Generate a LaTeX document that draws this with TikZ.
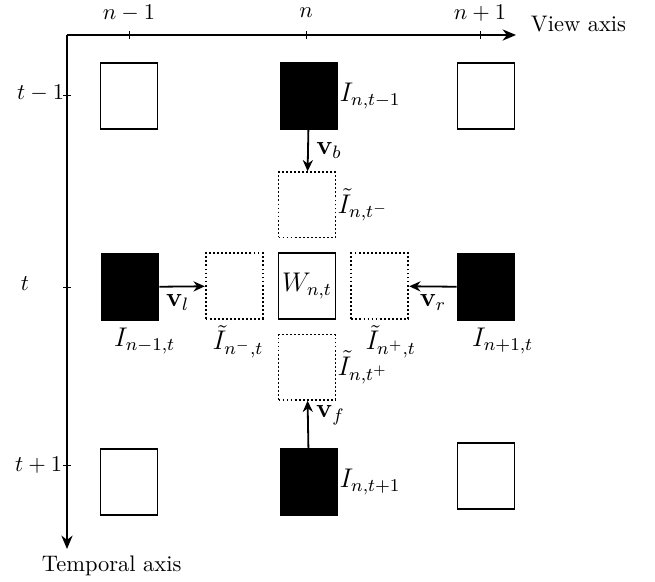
\documentclass[tikz,border=0pt]{standalone}
\usepackage{amsmath,amssymb}
\usetikzlibrary{arrows.meta, positioning}

\tikzset{
  frame/.style={draw, thick, minimum width=0.89cm, minimum height=1.02cm, inner sep=0pt, font=\large},
  known/.style={frame, fill=black},
  plainbox/.style={frame},
  warped/.style={frame, densely dotted},
  flow/.style={-{Stealth[length=5pt,width=4.5pt]}, thick},
  axis/.style={-{Stealth[length=6pt,width=5pt]}, thick},
  every label/.style={font=\large},
}

\begin{document}
\begin{tikzpicture}[x=0.01563cm, y=-0.01563cm]
    \useasboundingbox (0,0) rectangle (655,581);
    % axes
    \coordinate (o) at (67,35);
    \coordinate (vend) at (516,35);
    \coordinate (tend) at (67,549);
    \draw[axis] (o) -- (vend);
    \draw[axis] (o) -- (tend);
    \node[anchor=west] (vlab) at (523,24) {View axis};
    \node[anchor=west] (tlab) at (34,566) {Temporal axis};
    \foreach \x/\lab/\nm in {129/n-1/a, 306/n/b, 480/n+1/c} {
        \draw (\x,31) -- (\x,39);
        \node (v\nm) at (\x,13) {$\lab$};
    }
    \foreach \y/\lab/\nm in {95/t-1/a, 287/t/b, 465/t+1/c} {
        \draw (63,\y) -- (71,\y);
    }
    \node[anchor=east] (ta) at (72,93) {$t-1$};
    \node (tb) at (25,284) {$t$};
    \node[anchor=east] (tc) at (70,465) {$t+1$};

    % frames
    \node[plainbox] (a1) at (129,96) {};
    \node[known, label={[label distance=-3pt]right:$I_{n,t-1}$}] (b1) at (309,96) {};
    \node[plainbox] (c1) at (486,96) {};
    \node[known, label={[label distance=0pt, xshift=0.23cm]below:$I_{n-1,t}$}] (a2) at (130,287) {};
    \node[plainbox] (w) at (307,286) {$W_{n,t}$};
    \node[warped, left=0.22cm of w, label={[label distance=-1pt, xshift=0.06cm]below:$\tilde{I}_{n^-,t}$}] (wl) {};
    \node[warped, right=0.22cm of w, label={[label distance=-1pt, xshift=0.17cm]below:$\tilde{I}_{n^+,t}$}] (wr) {};
    \node[warped, above=0.22cm of w, label={[label distance=-3pt]right:$\tilde{I}_{n,t^-}$}] (wt) {};
    \node[warped, below=0.22cm of w, label={[label distance=-3pt]right:$\tilde{I}_{n,t^+}$}] (wb) {};
    \node[known, label={[label distance=0pt, xshift=0.26cm]below:$I_{n+1,t}$}] (c2) at (486,287) {};
    \node[plainbox] (a3) at (129,482) {};
    \node[known, label={[label distance=-3pt]right:$I_{n,t+1}$}] (b3) at (309,482) {};
    \node[plainbox] (c3) at (486,476) {};

    % flows
    \draw[flow] (b1) -- node[right, font=\large] {$\mathbf{v}_b$} (wt);
    \draw[flow] (a2) -- node[below, xshift=-2pt, font=\large] {$\mathbf{v}_l$} (wl);
    \draw[flow] (c2) -- node[below, font=\large] {$\mathbf{v}_r$} (wr);
    \draw[flow] (b3) -- node[right, pos=0.7, font=\large] {$\mathbf{v}_f$} (wb);
\end{tikzpicture}
\end{document}
